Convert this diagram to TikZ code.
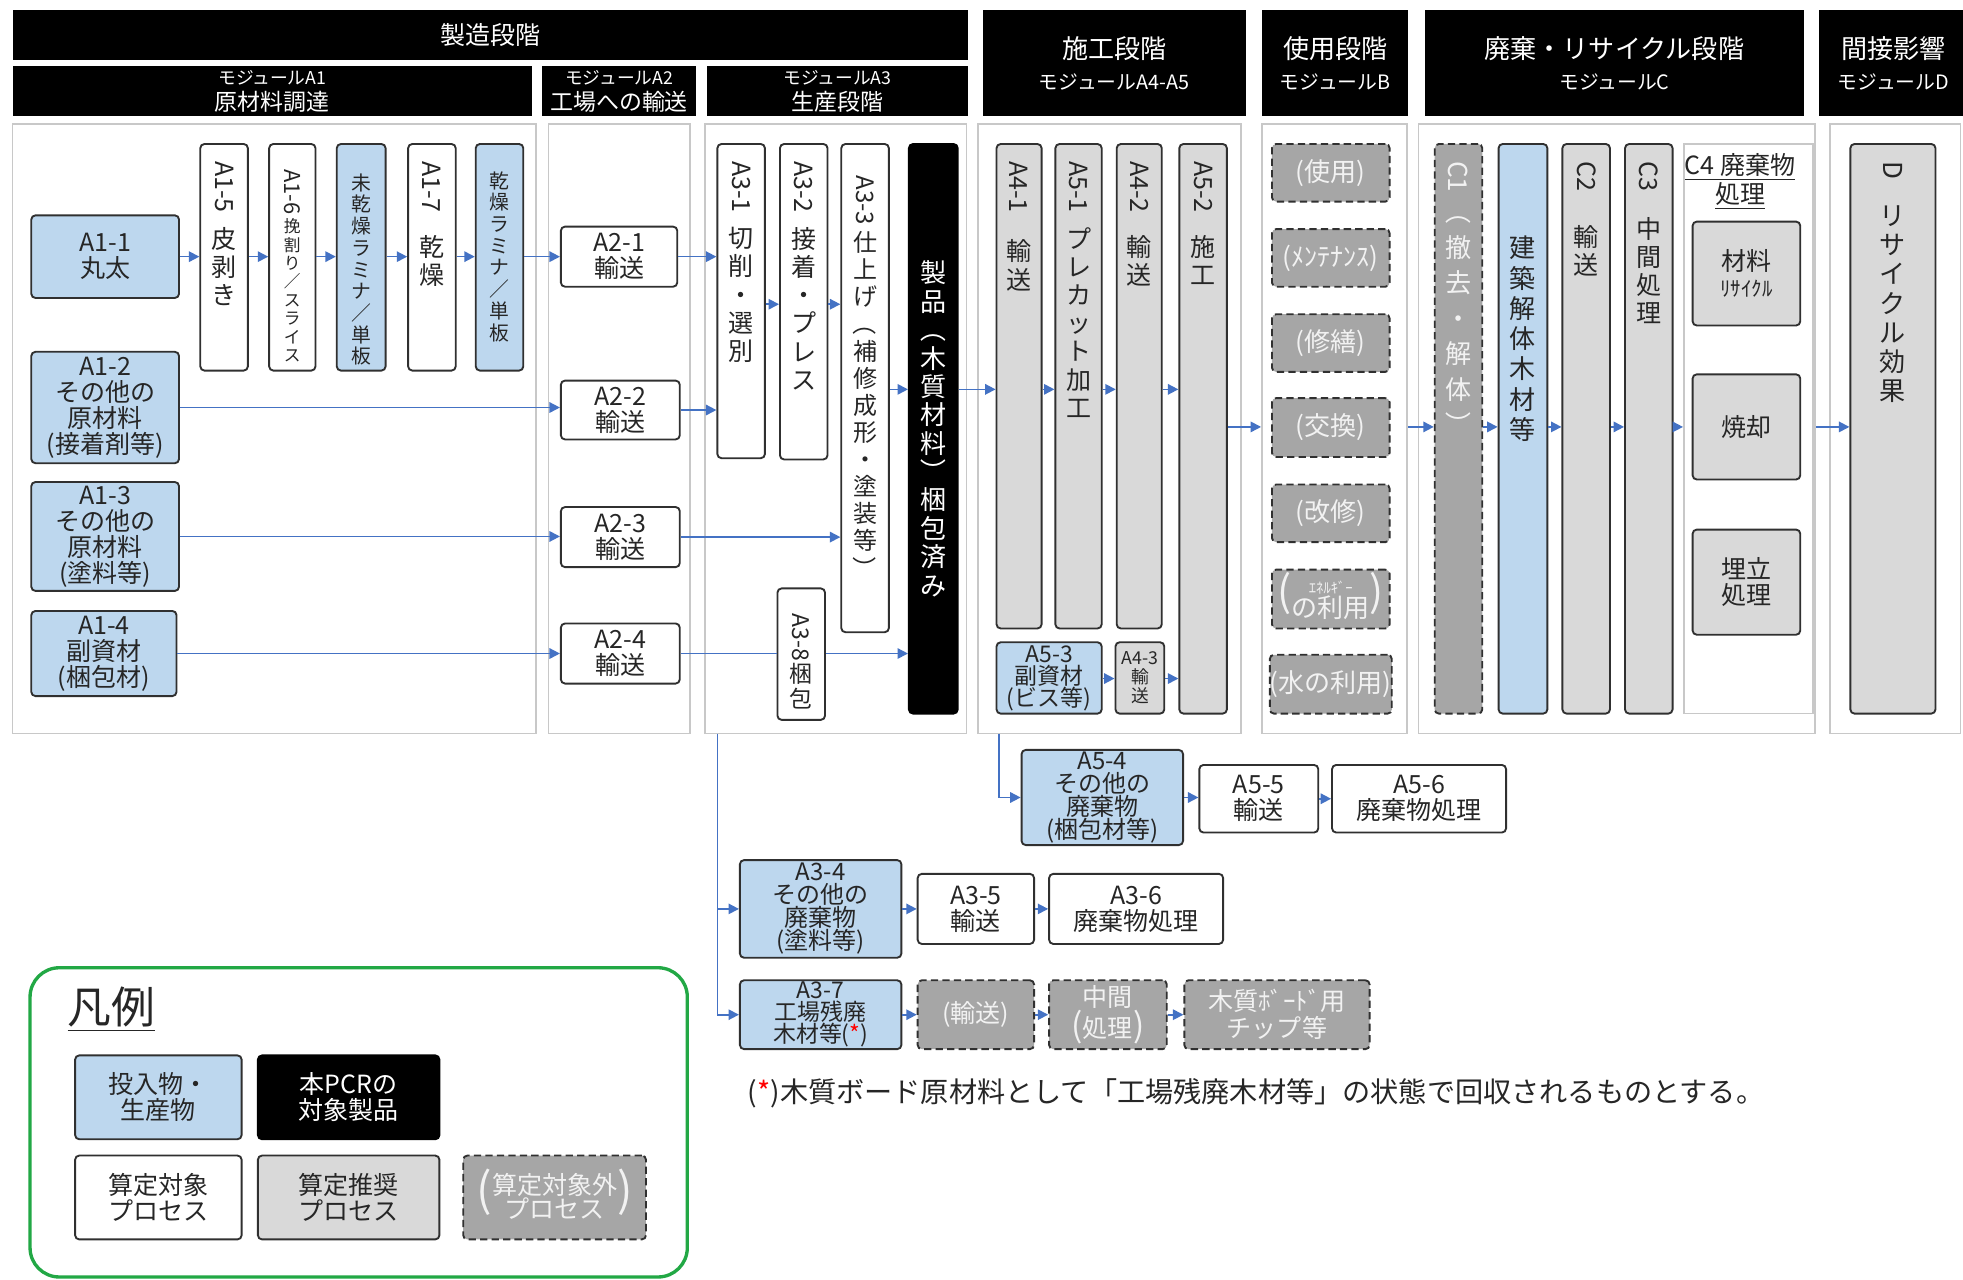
\documentclass[tikz,border=0pt]{standalone}
\usepackage{fontspec}
\usepackage{graphicx}
\setmainfont{Noto Sans CJK JP}
\usetikzlibrary{arrows.meta}
\definecolor{cblue}{HTML}{BDD7EE}
\definecolor{clg}{HTML}{D9D9D9}
\definecolor{cdg}{HTML}{A6A6A6}
\definecolor{cedge}{HTML}{303030}
\definecolor{ctext}{HTML}{262626}
\definecolor{cfrm}{HTML}{C8C8C8}
\definecolor{carr}{HTML}{4472C4}
\definecolor{cgreen}{HTML}{22A845}
\definecolor{clight}{HTML}{F2F2F2}
\newcommand\mkbox[7]{\node[#6,minimum width={(#4-#2)*0.6pt},minimum height={(#5-#3)*0.6pt}] (#1) at ({(#2+#4)/2},{(#3+#5)/2}) {#7};}
\newcommand\mkv[8]{\mkbox{#1}{#2}{#3}{#4}{#5}{#6}{}\node[vtext,#7] (#1t) at ({(#2+#4)/2},#3) {#8};}
\newcommand\vl[1]{\rotatebox[origin=c]{-90}{#1}}
\newcommand\fsz[2]{\fontsize{#1}{#2}\selectfont}
\begin{document}
\begin{tikzpicture}[x=0.6pt,y=-0.6pt,
  basebox/.style={draw=cedge,line width=0.9pt,rounded corners=2pt,inner sep=0pt,align=center,text=ctext,font=\fsz{12}{12.5}},
  bluebox/.style={basebox,fill=cblue},
  wbox/.style={basebox,fill=white},
  lgbox/.style={basebox,fill=clg},
  dgbox/.style={basebox,fill=cdg,dash pattern=on 3.5pt off 2pt,text=clight},
  blkbox/.style={basebox,fill=black,draw=black,text=white},
  hdr/.style={fill=black,draw=none,inner sep=0pt,align=center,text=white},
  frm/.style={draw=cfrm,line width=0.8pt,inner sep=0pt},
  vtext/.style={anchor=north,align=center,inner sep=0pt,text=ctext,font=\fsz{12}{13.5},yshift=-8pt},
  arr/.style={draw=carr,line width=0.8pt,-{Triangle[length=5pt,width=5pt]}},
  ln/.style={draw=carr,line width=0.8pt}]
\fill[white] (0,0) rectangle (1568,1022);
\useasboundingbox (0,0) rectangle (1568,1022);
% headers
\mkbox{hM}{10}{8}{773}{48}{hdr,font=\fsz{12}{14}}{製造段階}
\mkbox{hA1}{10}{53}{425}{93}{hdr,font=\fsz{11}{12.5}}{{\fsz{8.5}{10}モジュールA1}\\原材料調達}
\mkbox{hA2}{433}{53}{556}{93}{hdr,font=\fsz{11}{12.5}}{{\fsz{8.5}{10}モジュールA2}\\工場への輸送}
\mkbox{hA3}{565}{53}{773}{93}{hdr,font=\fsz{11}{12.5}}{{\fsz{8.5}{10}モジュールA3}\\生産段階}
\mkbox{hC}{785}{8}{995}{93}{hdr,font=\fsz{12.5}{15}}{施工段階\\{\fsz{9.5}{11}モジュールA4-A5}}
\mkbox{hB}{1008}{8}{1125}{93}{hdr,font=\fsz{12.5}{15}}{使用段階\\{\fsz{9.5}{11}モジュールB}}
\mkbox{hE}{1138}{8}{1441}{93}{hdr,font=\fsz{12.5}{15}}{廃棄・リサイクル段階\\{\fsz{9.5}{11}モジュールC}}
\mkbox{hD}{1453}{8}{1572}{93}{hdr,font=\fsz{12.5}{15}}{間接影響\\{\fsz{9.5}{11}モジュールD}}
% frames
\mkbox{fA1}{10}{99}{428}{586}{frm}{}
\mkbox{fA2}{438}{99}{551}{586}{frm}{}
\mkbox{fA3}{563}{99}{772}{586}{frm}{}
\mkbox{fA45}{781}{99}{991}{586}{frm}{}
\mkbox{fB}{1008}{99}{1124}{586}{frm}{}
\mkbox{fC}{1133}{99}{1450}{586}{frm}{}
\mkbox{fD}{1462}{99}{1566}{586}{frm}{}
% A1
\mkbox{a11}{25}{172}{143}{238}{bluebox}{A1-1\\丸太}
\mkbox{a12}{25}{281}{143}{370}{bluebox}{A1-2\\その他の\\原材料\\(接着剤等)}
\mkbox{a13}{25}{385}{143}{472}{bluebox}{A1-3\\その他の\\原材料\\(塗料等)}
\mkbox{a14}{25}{488}{141}{556}{bluebox}{A1-4\\副資材\\(梱包材)}
\mkv{a15}{160}{115}{198}{296}{wbox}{}{\vl{A1-5}\\[6pt]皮\\剥\\き}
\mkv{a16}{215}{115}{252}{296}{wbox}{font=\fsz{8}{8.8},yshift=-4pt}{\vl{\fsz{10.5}{11}A1-6}\\[1pt]挽\\割\\り\\／\\ス\\ラ\\イ\\ス}
\mkv{miLam}{269}{115}{308}{296}{bluebox}{font=\fsz{9.5}{10.4},yshift=-6pt}{未\\乾\\燥\\ラ\\ミ\\ナ\\／\\単\\板}
\mkv{a17}{326}{115}{364}{296}{wbox}{}{\vl{A1-7}\\[10pt]乾\\燥}
\mkv{kLam}{380}{115}{418}{296}{bluebox}{font=\fsz{9.5}{10.4},yshift=-5pt}{乾\\燥\\ラ\\ミ\\ナ\\／\\単\\板}
% A2
\mkbox{a21}{448}{181}{541}{229}{wbox}{A2-1\\輸送}
\mkbox{a22}{448}{304}{543}{351}{wbox}{A2-2\\輸送}
\mkbox{a23}{448}{405}{543}{453}{wbox}{A2-3\\輸送}
\mkbox{a24}{448}{498}{543}{546}{wbox}{A2-4\\輸送}
% A3
\mkv{a31}{573}{115}{611}{366}{wbox}{}{\vl{A3-1}\\[6pt]切\\削\\・\\選\\別}
\mkv{a32}{623}{115}{661}{367}{wbox}{}{\vl{A3-2}\\[6pt]接\\着\\・\\プ\\レ\\ス}
\mkv{a33}{672}{115}{710}{505}{wbox}{font=\fsz{11.5}{13},yshift=-7pt}{\vl{A3-3}\\[2pt]仕\\上\\げ\\\vl{（}\\補\\修\\成\\形\\・\\塗\\装\\等\\\vl{）}}
\mkv{a38}{621}{470}{659}{575}{wbox}{font=\fsz{11}{12},yshift=-4pt}{\vl{A3-8}\\梱\\包}
\mkbox{prod}{726}{115}{765}{570}{blkbox,font=\fsz{12.5}{13.6}}{製\\品\\\vl{（}\\木\\質\\材\\料\\\vl{）}\\梱\\包\\済\\み}
% A4-A5
\mkv{a41}{796}{115}{832}{502}{lgbox}{}{\vl{A4-1}\\[12pt]輸\\送}
\mkv{a51}{843}{115}{880}{502}{lgbox}{}{\vl{A5-1}\\[6pt]プ\\レ\\カ\\ッ\\ト\\加\\工}
\mkv{a42}{892}{115}{928}{502}{lgbox}{}{\vl{A4-2}\\[10pt]輸\\送}
\mkv{a52}{942}{115}{980}{570}{lgbox}{}{\vl{A5-2}\\[10pt]施\\工}
\mkbox{a53}{796}{513}{880}{570}{bluebox,font=\fsz{11}{10.5}}{A5-3\\副資材\\(ビス等)}
\mkbox{a43}{891}{513}{930}{570}{lgbox,font=\fsz{8.5}{9.2}}{A4-3\\輸\\送}
% B
\mkbox{b1}{1016}{115}{1110}{161}{dgbox,font=\fsz{12.5}{13}}{(使用)}
\mkbox{b2}{1016}{183}{1110}{229}{dgbox,font=\fsz{12.5}{13}}{(ﾒﾝﾃﾅﾝｽ)}
\mkbox{b3}{1016}{251}{1110}{297}{dgbox,font=\fsz{12.5}{13}}{(修繕)}
\mkbox{b4}{1016}{318}{1110}{365}{dgbox,font=\fsz{12.5}{13}}{(交換)}
\mkbox{b5}{1016}{387}{1110}{433}{dgbox,font=\fsz{12.5}{13}}{(改修)}
\mkbox{b6}{1016}{455}{1110}{502}{dgbox,font=\fsz{12.5}{13}}{{\fsz{20}{20}(}\begin{tabular}{@{}c@{}}{\fsz{7}{7}ｴﾈﾙｷﾞｰ}\\[-3pt]の利用\end{tabular}{\fsz{20}{20})}}
\mkbox{b7}{1016}{523}{1110}{570}{dgbox,font=\fsz{12.5}{13}}{(水の利用)}
% C
\mkv{c1}{1146}{115}{1184}{570}{dgbox}{font=\fsz{12.5}{17},text=clight}{\vl{C1}\\\vl{（}\\撤\\去\\・\\解\\体\\\vl{）}}
\mkv{ken}{1197}{115}{1236}{570}{bluebox}{font=\fsz{12.5}{14.5},yshift=-36pt}{建\\築\\解\\体\\木\\材\\等}
\mkv{c2}{1248}{115}{1286}{570}{lgbox}{}{\vl{C2}\\[16pt]輸\\送}
\mkv{c3}{1298}{115}{1336}{570}{lgbox}{}{\vl{C3}\\[12pt]中\\間\\処\\理}
\mkbox{c4f}{1345}{115}{1448}{570}{frm}{}
\node[align=center,inner sep=0pt,text=ctext,font=\fsz{12}{13.5}] (c4t) at (1390,145) {\underline{C4 廃棄物}\\\underline{処理}};
\mkbox{c4a}{1352}{177}{1438}{260}{lgbox}{材料\\{\fsz{10}{11}ﾘｻｲｸﾙ}}
\mkbox{c4b}{1352}{299}{1438}{383}{lgbox}{焼却}
\mkbox{c4c}{1352}{423}{1438}{507}{lgbox}{埋立\\処理}
% D
\mkv{dd}{1478}{115}{1546}{570}{lgbox}{font=\fsz{12.5}{14}}{\vl{D}\\[8pt]リ\\サ\\イ\\ク\\ル\\効\\果}
% bottom
\mkbox{a54}{816}{599}{945}{675}{bluebox,font=\fsz{11.5}{11}}{A5-4\\その他の\\廃棄物\\(梱包材等)}
\mkbox{a55}{958}{611}{1053}{665}{wbox}{A5-5\\輸送}
\mkbox{a56}{1064}{611}{1203}{665}{wbox}{A5-6\\廃棄物処理}
\mkbox{a34}{591}{687}{720}{765}{bluebox,font=\fsz{11.5}{11}}{A3-4\\その他の\\廃棄物\\(塗料等)}
\mkbox{a35}{733}{698}{826}{754}{wbox}{A3-5\\輸送}
\mkbox{a36}{838}{698}{977}{754}{wbox}{A3-6\\廃棄物処理}
\mkbox{a37}{591}{783}{720}{838}{bluebox,font=\fsz{11}{10.5}}{A3-7\\工場残廃\\木材等(\textcolor{red}{*})}
\mkbox{t1}{733}{783}{826}{838}{dgbox,font=\fsz{12}{13}}{(輸送)}
\mkbox{t2}{838}{783}{932}{838}{dgbox,font=\fsz{12}{12.5}}{中間\\{\fsz{16}{14}(}処理{\fsz{16}{14})}}
\mkbox{t3}{946}{783}{1094}{838}{dgbox,font=\fsz{12}{13}}{木質ﾎﾞｰﾄﾞ用\\チップ等}
\node[anchor=west,inner sep=0pt,text=ctext,font=\fsz{13.5}{15}] (note) at (597,873) {(\textcolor{red}{*})木質ボード原材料として「工場残廃木材等」の状態で回収されるものとする。};
% legend
\mkbox{leg}{24}{773}{549}{1020}{draw=cgreen,line width=1.6pt,rounded corners=14pt}{}
\node[inner sep=0pt,text=ctext,font=\fsz{21}{24}] (legt) at (89,806) {\underline{凡例}};
\mkbox{l1}{60}{843}{193}{910}{bluebox}{投入物・\\生産物}
\mkbox{l2}{206}{843}{351}{910}{blkbox}{本PCRの\\対象製品}
\mkbox{l3}{60}{923}{193}{990}{wbox}{算定対象\\プロセス}
\mkbox{l4}{206}{923}{351}{990}{lgbox}{算定推奨\\プロセス}
\mkbox{l5}{370}{923}{516}{990}{dgbox}{{\fsz{22}{22}(}\begin{tabular}{@{}c@{}}算定対象外\\[-2pt]プロセス\end{tabular}{\fsz{22}{22})}}
% row coordinates
\coordinate (r2) at (0,243);
\coordinate (r3) at (0,311);
\coordinate (r4) at (0,341);
\coordinate (r5) at (0,542);
\coordinate (v3) at (573,586);
\coordinate (v45) at (798,586);
% arrows A1
\draw[arr] (a11.east) -- (a15.west |- a11.east);
\foreach \p/\q in {a15/a16,a16/miLam,miLam/a17,a17/kLam,kLam/a21}
  \draw[arr] (\p.east |- a11.east) -- (\q.west |- a11.east);
\draw[arr] (a12.east) -- (a22.west |- a12.east);
\draw[arr] (a13.east) -- (a23.west |- a13.east);
\draw[arr] (a14.east) -- (a24.west |- a14.east);
% arrows A2-A3
\draw[arr] (a21.east) -- (a31.west |- a21.east);
\draw[arr] (a22.east) -- (a31.west |- a22.east);
\draw[arr] (a31.east |- r2) -- (a32.west |- r2);
\draw[arr] (a32.east |- r2) -- (a33.west |- r2);
\draw[arr] (a23.east) -- (a33.west |- a23.east);
\draw[ln] (a24.east) -- (a38.west |- a24.east);
\draw[arr] (a38.east |- a24.east) -- (prod.west |- a24.east);
\draw[arr] (a33.east |- r3) -- (prod.west |- r3);
\draw[arr] (prod.east |- r3) -- (a41.west |- r3);
\foreach \p/\q in {a41/a51,a51/a42,a42/a52}
  \draw[arr] (\p.east |- r3) -- (\q.west |- r3);
\draw[arr] (a53.east |- r5) -- (a43.west |- r5);
\draw[arr] (a43.east |- r5) -- (a52.west |- r5);
\foreach \p/\q in {a52/fB,fB/c1,c1/ken,ken/c2,c2/c3,c3/c4f,fC/dd}
  \draw[arr] (\p.east |- r4) -- (\q.west |- r4);
% bottom arrows
\draw[arr] (v3) |- (a37.west);
\draw[arr] (v3 |- a34.west) -- (a34.west);
\draw[arr] (v45) |- (a54.west);
\foreach \p/\q in {a54/a55,a55/a56,a34/a35,a35/a36,a37/t1,t1/t2,t2/t3}
  \draw[arr] (\p.east) -- (\q.west |- \p.east);
\end{tikzpicture}
\end{document}
